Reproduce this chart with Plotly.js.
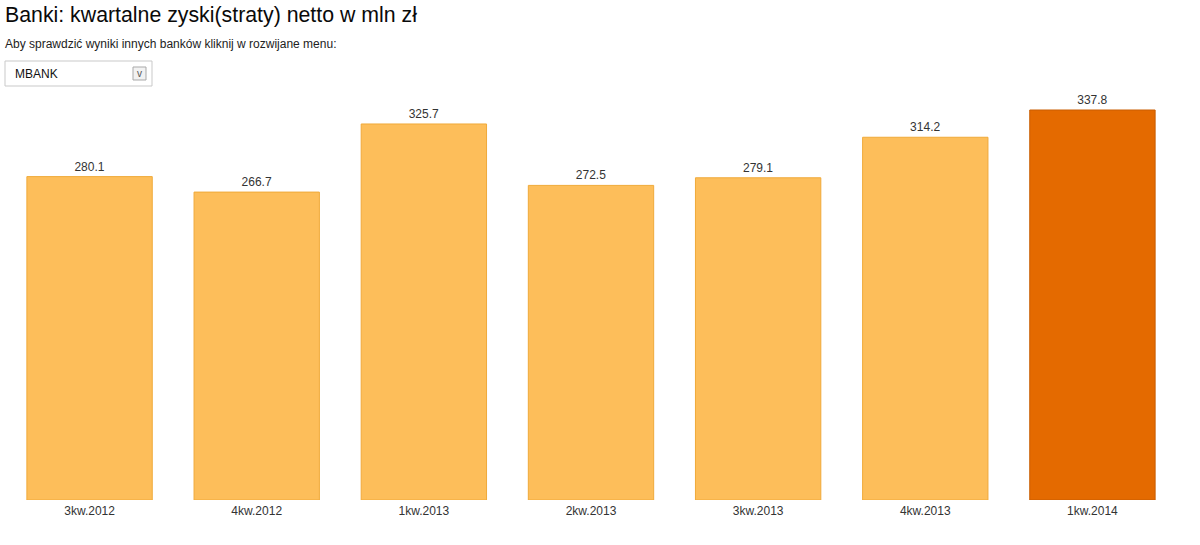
<!DOCTYPE html>
<html>
<head>
<meta charset="utf-8">
<script src="https://cdn.plot.ly/plotly-3.0.1.min.js"></script>
<style>html,body{margin:0;padding:0;background:#fff;}#chart{width:1200px;height:545px;}</style>
</head>
<body>
<div id="chart"></div>
<script>
const categories = ["3kw.2012", "4kw.2012", "1kw.2013", "2kw.2013", "3kw.2013", "4kw.2013", "1kw.2014"];
const values = [280.1, 266.7, 325.7, 272.5, 279.1, 314.2, 337.8];
const bankName = "MBANK";

const lightFill = "#FDBE5A", lightLine = "#F0AA3A";
const darkFill = "#E46A00", darkLine = "#C95C00";
const fills = categories.map((c, i) => i === categories.length - 1 ? darkFill : lightFill);
const lines = categories.map((c, i) => i === categories.length - 1 ? darkLine : lightLine);

// pixel -> paper helpers (plot area: x 6..1176, y 95..500)
const L = 6, R = 1176, T = 95, B = 500;
const px = v => (v - L) / (R - L);
const py = v => (B - v) / (B - T);

const font = "Liberation Sans, Arial, sans-serif";

const trace = {
  type: "bar",
  x: categories,
  y: values,
  marker: {color: fills, line: {color: lines, width: 1}},
  text: values.map(v => v.toFixed(1)),
  textposition: "outside",
  textfont: {family: font, size: 12, color: "#333"},
  cliponaxis: false,
  hoverinfo: "x+y"
};

const layout = {
  width: 1200, height: 545,
  margin: {l: L, r: 1200 - R, t: T, b: 545 - B},
  paper_bgcolor: "#fff", plot_bgcolor: "#fff",
  bargap: 0.25,
  showlegend: false,
  font: {family: font, color: "#333"},
  title: {
    text: "Banki: kwartalne zyski(straty) netto w mln zł",
    xref: "container", yref: "container",
    x: 5 / 1200, xanchor: "left",
    y: 1 - 15 / 545, yanchor: "middle",
    font: {family: font, size: 21.3, color: "#0a0a0a"}
  },
  xaxis: {
    showgrid: false, zeroline: false, showline: false, ticks: "",
    ticklabelstandoff: 2,
    tickfont: {family: font, size: 12, color: "#333"}
  },
  yaxis: {
    range: [0, 350.8], visible: false, showgrid: false, zeroline: false
  },
  shapes: [
    {type: "rect", xref: "paper", yref: "paper", x0: px(5), x1: px(152), y0: py(86), y1: py(61),
     line: {color: "#c9c9c9", width: 1}, fillcolor: "#fff", layer: "above"},
    {type: "rect", xref: "paper", yref: "paper", x0: px(133), x1: px(146), y0: py(80), y1: py(67),
     line: {color: "#a9a9a9", width: 1}, fillcolor: "#f2f2f2", layer: "above"}
  ],
  annotations: [
    {text: "Aby sprawdzić wyniki innych banków kliknij w rozwijane menu:", xref: "paper", yref: "paper",
     x: px(3), y: py(44), xanchor: "left", yanchor: "middle", showarrow: false,
     font: {family: font, size: 12, color: "#222"}},
    {text: bankName, xref: "paper", yref: "paper",
     x: px(13), y: py(74), xanchor: "left", yanchor: "middle", showarrow: false,
     font: {family: font, size: 12, color: "#111"}},
    {text: "v", xref: "paper", yref: "paper",
     x: px(139.5), y: py(73.5), xanchor: "center", yanchor: "middle", showarrow: false,
     font: {family: font, size: 10, color: "#555"}}
  ]
};

Plotly.newPlot("chart", [trace], layout, {displayModeBar: false, staticPlot: true});
</script>
</body>
</html>
